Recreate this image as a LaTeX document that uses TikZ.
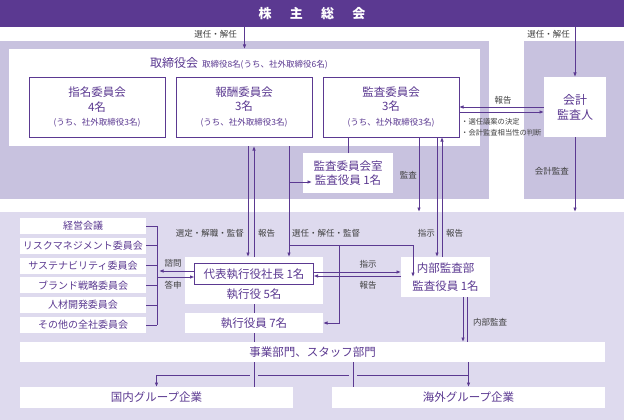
\documentclass[tikz,border=0pt]{standalone}
\usepackage{fontspec}
\setmainfont{Noto Sans CJK JP}
\usetikzlibrary{arrows.meta,positioning,calc}
\definecolor{kpurple}{RGB}{91,57,145}
\definecolor{zonedark}{RGB}{200,194,223}
\definecolor{zonelight}{RGB}{222,218,238}
\definecolor{notegray}{RGB}{64,64,64}
\tikzset{
  zone/.style={inner sep=0,outer sep=0},
  panel/.style={fill=white,inner sep=0,outer sep=0,text=kpurple,align=center,font=\fontsize{11.5}{14.5}\selectfont},
  cmte/.style={panel,draw=kpurple,line width=0.7pt},
  subcmte/.style={panel,minimum width=126pt,minimum height=16pt,font=\fontsize{10}{12}\selectfont},
  note/.style={text=notegray,inner sep=0,font=\fontsize{8.5}{10}\selectfont},
  link/.style={draw=kpurple,line width=0.9pt,-{Latex[length=4.5pt,width=3.6pt]}},
  tie/.style={draw=kpurple,line width=0.8pt},
  hop/.style={preaction={draw=zonelight,line width=8pt}}
}
\begin{document}
\begin{tikzpicture}[x=1pt,y=-1pt]
\useasboundingbox(0,0)rectangle(624,420);
% fonds
\node[zone,fill=kpurple,minimum width=624pt,minimum height=27pt,text=white,font=\fontsize{13}{15}\selectfont\bfseries](gm)at(312,13.5){株\hspace{1.4em}主\hspace{1.4em}総\hspace{1.4em}会};
\node[zone,fill=zonedark,minimum width=489pt,minimum height=158pt](boardzone)at(244.5,120){};
\node[zone,fill=zonedark,minimum width=100pt,minimum height=158pt](auditzone)at(574,120){};
\node[zone,fill=zonelight,minimum width=624pt,minimum height=208pt](execzone)at(312,316){};
% conseil
\node[panel,minimum width=471pt,minimum height=97pt](board)at(244.5,97.5){};
\node[panel,anchor=west,font=\fontsize{12}{14}\selectfont](boardtitle)at(150,63){取締役会\hspace{4pt}{\fontsize{8.5}{10}\selectfont 取締役8名(うち、社外取締役6名)}};
\node[cmte,minimum width=136pt,minimum height=60pt](nomination)at(97,107){指名委員会\\4名\\{\fontsize{8.5}{10}\selectfont (うち、社外取締役3名)}};
\node[cmte,minimum width=136pt,minimum height=60pt](compensation)at(244,107){報酬委員会\\3名\\{\fontsize{8.5}{10}\selectfont (うち、社外取締役3名)}};
\node[cmte,minimum width=136pt,minimum height=60pt](audit)at(391,107){監査委員会\\3名\\{\fontsize{8.5}{10}\selectfont (うち、社外取締役3名)}};
\node[panel,minimum width=62pt,minimum height=60pt,font=\fontsize{12}{15}\selectfont](auditor)at(575,107){会計\\監査人};
\node[panel,minimum width=90pt,minimum height=40pt](auditroom)at(348,173){監査委員会室\\監査役員 1名};
% execution
\node[panel,minimum width=138pt,minimum height=47pt](ceogroup)at(254,280.5){};
\node[cmte,minimum width=119pt,minimum height=21pt](ceo)at(254,274){代表執行役社長 1名};
\node[panel](officers)at(254,294){執行役 5名};
\node[panel,minimum width=138pt,minimum height=20pt](execofficers)at(254,323){執行役員 7名};
\node[panel,minimum width=89pt,minimum height=40pt](intaudit)at(445.5,277){内部監査部\\[3pt]監査役員 1名};
\node[panel,minimum width=585pt,minimum height=20pt](business)at(312.5,352){事業部門、スタッフ部門};
\node[panel,minimum width=273pt,minimum height=21pt](domestic)at(156.5,397.5){国内グループ企業};
\node[panel,minimum width=273pt,minimum height=21pt](overseas)at(468.5,397.5){海外グループ企業};
\foreach \name [count=\i] in {経営会議,リスクマネジメント委員会,サステナビリティ委員会,ブランド戦略委員会,人材開発委員会,その他の全社委員会}
  \node[subcmte](sub\i)at(83,{226+19.8*(\i-1)}){\name};
% liens du haut
\draw[link](gm.south -| board.north)--(board.north);
\node[note,anchor=east](lblelect)at(237,34){選任・解任};
\draw[link](gm.south -| auditor.north)--(auditor.north);
\node[note,anchor=east](lblelectb)at(570,34){選任・解任};
\draw[link](auditor.west)--(audit.east);
\draw[link]([yshift=-5pt]audit.east)--([yshift=-5pt]auditor.west);
\node[note](lblreport)at(503,100){報告};
\node[note,anchor=west,align=left,font=\fontsize{7.3}{11}\selectfont](lblduty)at(461,127.5){・選任議案の決定\\・会計監査相当性の判断};
\draw[link](auditor.south)--(auditor.south |- execzone.north);
\node[note,anchor=east](lblaccaudit)at(569,171){会計監査};
\draw[tie](auditroom.north)--(auditroom.north |- audit.south);
\draw[link]([xshift=28pt]audit.south)--([xshift=28pt]audit.south |- execzone.north);
\node[note,anchor=east](lblaudit)at(417,175){監査};
\draw[link]([xshift=-8.5pt]intaudit.north |- audit.south)--([xshift=-8.5pt]intaudit.north);
\draw[link]([xshift=-3.5pt]intaudit.north)--([xshift=-3.5pt]intaudit.north |- audit.south);
\node[note,anchor=east](lblorder)at(435,233){指示};
\node[note,anchor=west](lblreportb)at(446,233){報告};
% conseil <-> CEO
\draw[link]([xshift=-6pt]ceogroup.north |- board.south)--([xshift=-6pt]ceogroup.north);
\draw[link](ceogroup.north)--(ceogroup.north |- board.south);
\node[note,anchor=east](lblappoint)at(244,233){選定・解職・監督};
\node[note,anchor=west](lblreportc)at(258,233){報告};
\coordinate(selA)at(289,182);
\coordinate(selB)at(289,245);
\coordinate(selC)at(339,245);
\draw[link](board.south -| selB)--(ceogroup.north -| selB);
\draw[link](selA)--([xshift=9pt]auditroom.west |- selA);
\draw[link](selB)-|([xshift=-32.5pt]intaudit.center);
\draw[link](selC)|-(execofficers.east);
\node[note,anchor=west](lblelectc)at(292,233){選任・解任・監督};
% CEO <-> audit interne
\draw[link]([yshift=2pt]ceo.east)--([yshift=2pt]ceo.east -| intaudit.west);
\draw[link]([yshift=-2pt]ceo.east -| intaudit.west)--([yshift=-2pt]ceo.east);
\node[note](lblorderb)at(368,264){指示};
\node[note](lblreportd)at(368,285){報告};
% comites consultatifs
\coordinate(hub)at(157,274);
\foreach \i in {1,...,6} \draw[tie](sub\i.east)--(sub\i.east -| hub);
\draw[tie](sub1.east -| hub)--(sub6.east -| hub);
\draw[link]([yshift=3pt]ceo.west)--([yshift=3pt,xshift=2pt]ceo.west -| hub);
\draw[link]([yshift=-3pt]ceo.west -| hub)--([yshift=-3pt]ceo.west);
\node[note](lblconsult)at(173,263){諮問};
\node[note](lblanswer)at(173,285){答申};
% liens du bas
\draw[tie](ceogroup.south)--(execofficers.north);
\draw[tie](execofficers.south)--(execofficers.south |- business.north);
\draw[link]([xshift=17.5pt]intaudit.south)--([xshift=17.5pt]intaudit.south |- business.north);
\draw[tie]([xshift=21.5pt]intaudit.south)--([xshift=21.5pt]intaudit.south |- business.north);
\node[note,anchor=west](lblintaudit)at(473,322){内部監査};
\coordinate(fork)at(468.5,375);
\draw[link](business.south -| overseas.north)--(overseas.north);
\draw[link](fork)-|(domestic.north);
\draw[tie,hop](business.south -| execofficers.south)--(domestic.north -| execofficers.south);
\draw[tie,hop]([xshift=-115.5pt]overseas.north |- business.south)--([xshift=-115.5pt]overseas.north);
\end{tikzpicture}
\end{document}
